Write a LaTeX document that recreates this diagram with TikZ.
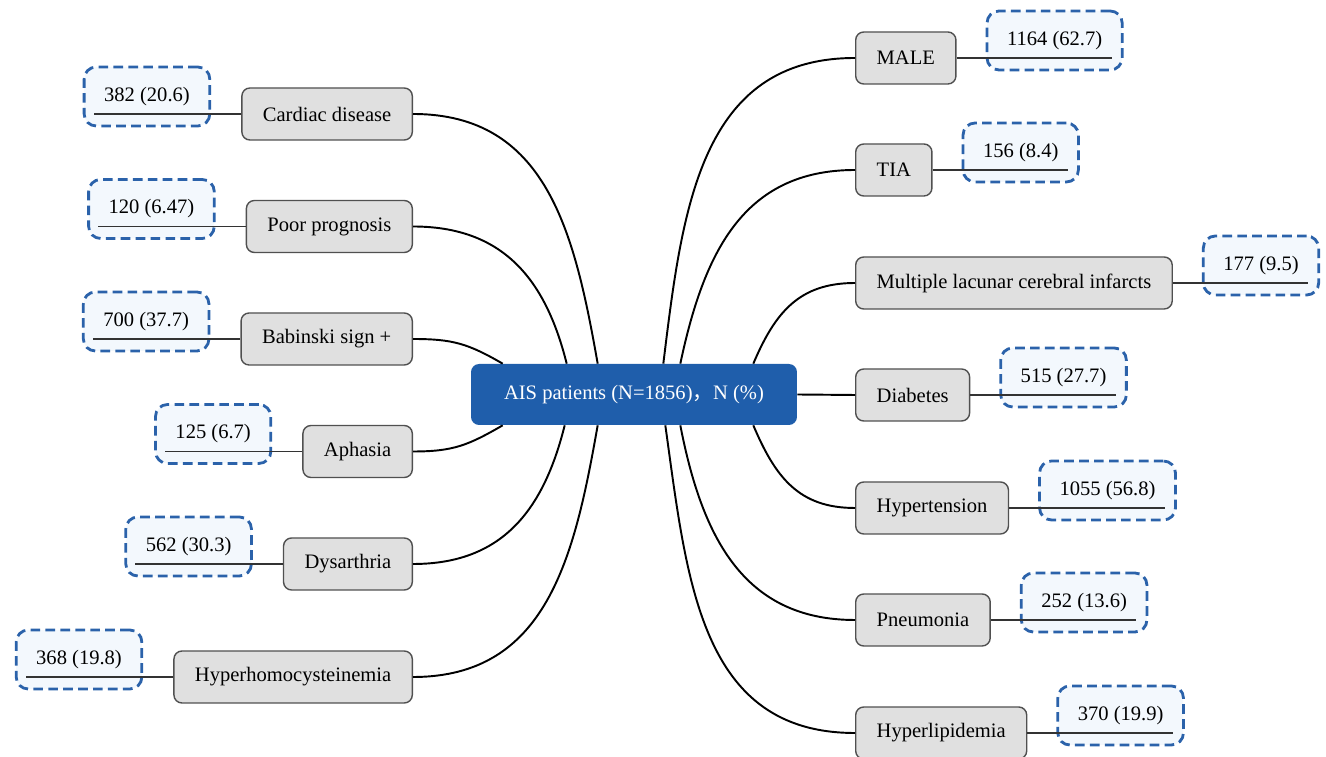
\documentclass[tikz,border=0pt]{standalone}
\usepackage{fontspec}
\setmainfont{Liberation Serif}
\newfontfamily\cjkfont{Noto Sans CJK SC}
\usetikzlibrary{calc}
\definecolor{ctrblue}{RGB}{31,94,171}
\definecolor{dashblue}{RGB}{43,98,170}
\definecolor{valfill}{RGB}{243,248,253}
\definecolor{grayfill}{RGB}{224,224,224}
\definecolor{grayline}{RGB}{80,80,80}
\begin{document}
\begin{tikzpicture}[x=0.02cm,y=0.02cm,
  every node/.style={font=\fontsize{11.7}{14}\selectfont},
  centerbox/.style={fill=ctrblue, rounded corners=0.16cm, text=white, minimum width=6.52cm, minimum height=1.22cm, inner sep=0pt},
  item/.style={draw=grayline, line width=0.8pt, fill=grayfill, rounded corners=0.16cm, minimum height=1.04cm, inner xsep=0.42cm},
  val/.style={draw=dashblue, line width=1.6pt, dash pattern=on 5.5pt off 3pt, fill=valfill, rounded corners=0.24cm, minimum height=1.18cm, inner xsep=0.4cm},
  link/.style={line width=1.1pt, black, looseness=1.1},
  uline/.style={line width=0.8pt, draw=black!80}
]
\useasboundingbox (0,0) rectangle (1326,757);

\node[centerbox] (ctr) at (634,362.5) {AIS patients (N=1856){\cjkfont ，}N (\%)};

% left items
\node[item, anchor=east] (g1) at (413,643) {Cardiac disease};
\node[item, anchor=east] (g2) at (413,530.5) {Poor prognosis};
\node[item, anchor=east] (g3) at (413,418) {Babinski sign +};
\node[item, anchor=east] (g4) at (413,305.5) {Aphasia};
\node[item, anchor=east] (g5) at (413,193) {Dysarthria};
\node[item, anchor=east] (g6) at (413,80) {Hyperhomocysteinemia};

% right items
\node[item, anchor=west] (r1) at (855,699) {MALE};
\node[item, anchor=west] (r2) at (855,587) {TIA};
\node[item, anchor=west] (r3) at (855,474) {Multiple lacunar cerebral infarcts};
\node[item, anchor=west] (r4) at (855,362) {Diabetes};
\node[item, anchor=west] (r5) at (855,249) {Hypertension};
\node[item, anchor=west] (r6) at (855,137) {Pneumonia};
\node[item, anchor=west] (r7) at (855,24) {Hyperlipidemia};

% left values
\node[val, anchor=east] (v1) at ($(g1.west)+(-30,17.5)$) {382 (20.6)};
\node[val, anchor=east] (v2) at ($(g2.west)+(-30,17.5)$) {120 (6.47)};
\node[val, anchor=east] (v3) at ($(g3.west)+(-30,17.5)$) {700 (37.7)};
\node[val, anchor=east] (v4) at ($(g4.west)+(-30,17.5)$) {125 (6.7)};
\node[val, anchor=east] (v5) at ($(g5.west)+(-30,17.5)$) {562 (30.3)};
\node[val, anchor=east] (v6) at ($(g6.west)+(-30,17.5)$) {368 (19.8)};

% right values
\node[val, anchor=west] (w1) at ($(r1.east)+(29,17.5)$) {1164 (62.7)};
\node[val, anchor=west] (w2) at ($(r2.east)+(29,17.5)$) {156 (8.4)};
\node[val, anchor=west] (w3) at ($(r3.east)+(29,17.5)$) {177 (9.5)};
\node[val, anchor=west] (w4) at ($(r4.east)+(29,17.5)$) {515 (27.7)};
\node[val, anchor=west] (w5) at ($(r5.east)+(29,17.5)$) {1055 (56.8)};
\node[val, anchor=west] (w6) at ($(r6.east)+(29,17.5)$) {252 (13.6)};
\node[val, anchor=west] (w7) at ($(r7.east)+(29,17.5)$) {370 (19.9)};

% underlines
\foreach \g/\v in {g1/v1,g2/v2,g3/v3,g4/v4,g5/v5,g6/v6}
  \draw[uline] (\g.west) -- ($(\v.west |- \g.west)+(11,0)$);
\foreach \g/\v in {r1/w1,r2/w2,r3/w3,r4/w4,r5/w5,r6/w6,r7/w7}
  \draw[uline] (\g.east) -- ($(\v.east |- \g.east)+(-12,0)$);

% connectors left
\draw[link] (g1.east) to[out=0,in=100] ($(ctr.north west)+(127,0)$);
\draw[link] (g2.east) to[out=0,in=104] ($(ctr.north west)+(96,0)$);
\draw[link] (g3.east) to[out=0,in=150] ($(ctr.north west)+(32,0)$);
\draw[link] (g4.east) to[out=0,in=-150] ($(ctr.south west)+(32,0)$);
\draw[link] (g5.east) to[out=0,in=-104] ($(ctr.south west)+(94,0)$);
\draw[link] (g6.east) to[out=0,in=-100] ($(ctr.south west)+(127,0)$);

% connectors right
\draw[link] (r1.west) to[out=180,in=83] ($(ctr.north east)+(-134,0)$);
\draw[link] (r2.west) to[out=180,in=78] ($(ctr.north east)+(-117,0)$);
\draw[link] (r3.west) to[out=180,in=67] ($(ctr.north east)+(-44,0)$);
\draw[link] (ctr.east) -- (r4.west);
\draw[link] (r5.west) to[out=180,in=-67] ($(ctr.south east)+(-44,0)$);
\draw[link] (r6.west) to[out=180,in=-79] ($(ctr.south east)+(-117,0)$);
\draw[link] (r7.west) to[out=180,in=-82] ($(ctr.south east)+(-132,0)$);
\end{tikzpicture}
\end{document}
